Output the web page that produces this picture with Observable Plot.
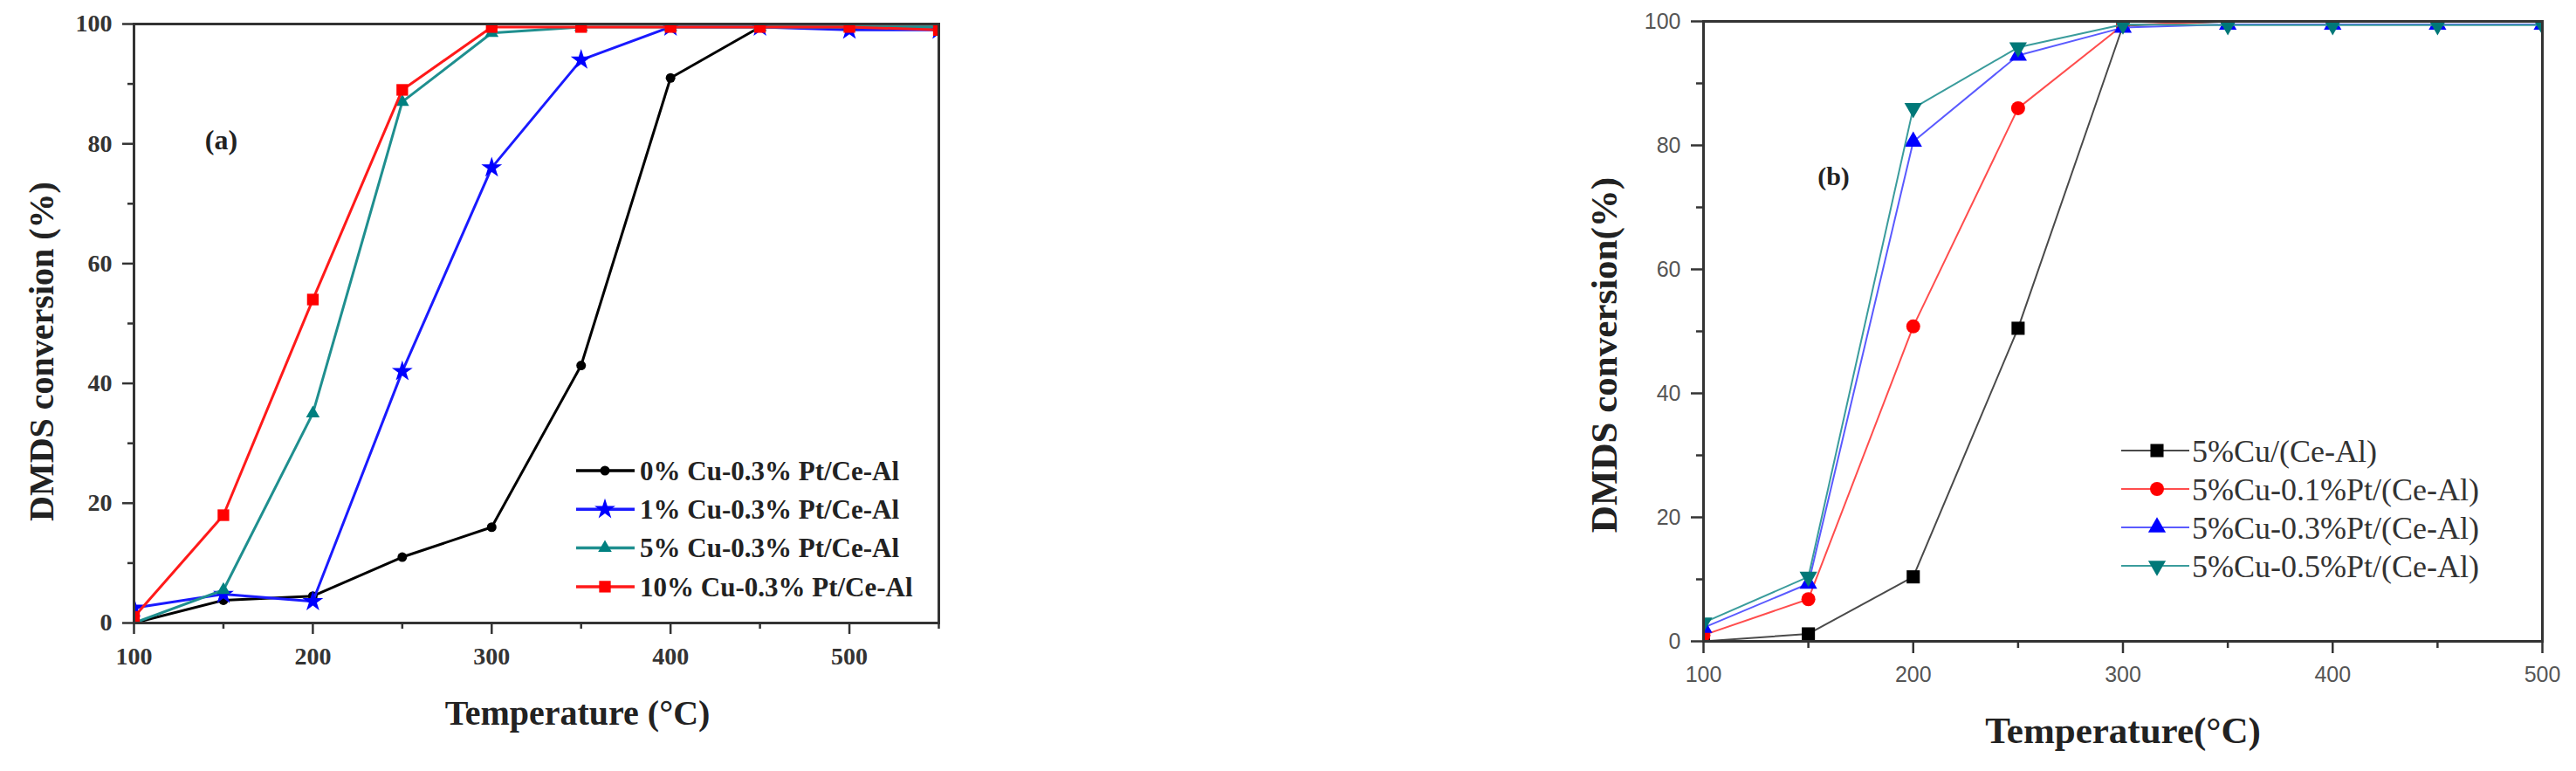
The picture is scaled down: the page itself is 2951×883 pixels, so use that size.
<!DOCTYPE html>
<html>
<head>
<meta charset="utf-8">
<script src="https://cdn.jsdelivr.net/npm/d3@7"></script>
<script src="https://cdn.jsdelivr.net/npm/@observablehq/plot@0.6"></script>
<style>
html, body { margin: 0; padding: 0; background: #fff; }
#wrap { position: relative; width: 2951px; height: 883px; overflow: hidden; background: #fff; }
.panel { position: absolute; top: 0; }
.legend { position: absolute; overflow: visible; }
</style>
</head>
<body>
<div id="wrap"></div>
<script>
// ---------- Panel (a) data ----------
const tempsA = [100, 150, 200, 250, 300, 350, 400, 450, 500, 550];
const cu0  = [0, 3.8, 4.5, 11, 16, 43, 91, 99.5, 99.5, 99.5];
const cu1  = [2.5, 4.8, 3.6, 42, 76, 94, 99.5, 99.5, 99, 99];
const cu5  = [0, 5.5, 35, 87, 98.5, 99.5, 99.5, 99.5, 99.5, 99.5];
const cu10 = [1, 18, 54, 89, 99.5, 99.5, 99.5, 99.5, 99.5, 99];
const namesA = ["0% Cu-0.3% Pt/Ce-Al", "1% Cu-0.3% Pt/Ce-Al", "5% Cu-0.3% Pt/Ce-Al", "10% Cu-0.3% Pt/Ce-Al"];
const colorsA = ["#000000", "#0000ff", "#008080", "#ff0000"];
const lineColorsA = ["#000000", "#1a1aff", "#1f8f8f", "#ff1a1a"];
const symbolsA = ["circle", "star", "triangle", "square"];
const radiiA = [5.5, 7.5, 5.8, 7.5];
const majorXA = [100, 200, 300, 400, 500];
const minorXA = [150, 250, 350, 450, 550];
const majorY = [0, 20, 40, 60, 80, 100];
const minorY = [10, 30, 50, 70, 90];

// ---------- Panel (b) data ----------
const tempsB = [100, 150, 200, 250, 300, 350, 400, 450, 500];
const pt00 = [0, 1.2, 10.4, 50.5, 99.3, 100, 100, 100, 100];
const pt01 = [1, 6.8, 50.8, 86, 99.4, 100, 100, 100, 100];
const pt03 = [2.2, 9.3, 80.6, 94.5, 99, 99.5, 99.5, 99.5, 99.5];
const pt05 = [3, 10.4, 86, 95.8, 99.5, 99.4, 99.4, 99.4, 99.4];
const namesB = ["5%Cu/(Ce-Al)", "5%Cu-0.1%Pt/(Ce-Al)", "5%Cu-0.3%Pt/(Ce-Al)", "5%Cu-0.5%Pt/(Ce-Al)"];
const colorsB = ["#000000", "#ff0000", "#0000ff", "#007878"];
const lineColorsB = ["#4a4a4a", "#ff4d4d", "#5a5aff", "#3a9c9c"];
const symbolsB = ["square", "circle", "triangle", "triangle"];
const rotB = [0, 0, 0, 180];
const radiiB = [8.5, 8, 7.5, 7.5];
const majorXB = [100, 200, 300, 400, 500];
const minorXB = [150, 250, 350, 450];

const serif = "'Liberation Serif', 'Times New Roman', serif";
const sans = "'Liberation Sans', Arial, sans-serif";

function rowsOf(temps, vals, name) {
  return vals.map((v, j) => ({t: temps[j], v, s: name}));
}

const wrap = document.getElementById("wrap");

// ---------- Panel (a) ----------
const seriesA = [cu0, cu1, cu5, cu10];
const marksA = [];
seriesA.forEach((vals, i) => {
  const rows = rowsOf(tempsA, vals, namesA[i]);
  marksA.push(Plot.line(rows, {x: "t", y: "v", stroke: lineColorsA[i], strokeWidth: 3, clip: true}));
  marksA.push(Plot.dot(rows, {x: "t", y: "v", fill: colorsA[i], stroke: "none", symbol: symbolsA[i], r: radiiA[i], clip: true}));
});

const plotA = Plot.plot({
  width: 1100, height: 883,
  marginLeft: 153, marginRight: 25, marginTop: 27, marginBottom: 170,
  x: {domain: [100, 550]},
  y: {domain: [0, 100]},
  style: {fontFamily: serif, background: "transparent", overflow: "visible", color: "#333"},
  marks: [
    ...marksA,
    Plot.frame({stroke: "#333", strokeWidth: 3}),
    Plot.axisX({ticks: majorXA, tickSize: 13, tickPadding: 15, strokeWidth: 2.5, fontSize: 28, fontWeight: "bold", label: null}),
    Plot.axisX({ticks: minorXA, tickSize: 7, tickFormat: () => "", strokeWidth: 2.5, label: null}),
    Plot.axisY({ticks: majorY, tickSize: 13, tickPadding: 12, strokeWidth: 2.5, fontSize: 28, fontWeight: "bold", label: null}),
    Plot.axisY({ticks: minorY, tickSize: 7, tickFormat: () => "", strokeWidth: 2.5, label: null}),
    Plot.text(["(a)"], {text: d => d, frameAnchor: "top-left", dx: 100, dy: 133, fontSize: 32, fontWeight: "bold", fill: "#222", textAnchor: "middle", lineAnchor: "middle"}),
    Plot.text(["Temperature (°C)"], {text: d => d, frameAnchor: "bottom", dx: 47, dy: 104, fontSize: 40, fontWeight: "bold", fill: "#222", textAnchor: "middle", lineAnchor: "middle"}),
    Plot.text(["DMDS conversion (%)"], {text: d => d, frameAnchor: "left", rotate: -90, dx: -105, dy: 32, fontSize: 40, fontWeight: "bold", fill: "#222", textAnchor: "middle", lineAnchor: "middle"})
  ]
});
plotA.classList.add("panel");
plotA.style.left = "0px";
wrap.appendChild(plotA);

// ---------- Panel (b) ----------
const seriesB = [pt00, pt01, pt03, pt05];
const marksB = [];
seriesB.forEach((vals, i) => {
  const rows = rowsOf(tempsB, vals, namesB[i]);
  marksB.push(Plot.line(rows, {x: "t", y: "v", stroke: lineColorsB[i], strokeWidth: 2, clip: true}));
  marksB.push(Plot.dot(rows, {x: "t", y: "v", fill: colorsB[i], stroke: "none", symbol: symbolsB[i], rotate: rotB[i], r: radiiB[i], clip: true}));
});

const plotB = Plot.plot({
  width: 1191, height: 883,
  marginLeft: 191, marginRight: 39, marginTop: 24, marginBottom: 149,
  x: {domain: [100, 500]},
  y: {domain: [0, 100]},
  style: {fontFamily: sans, background: "transparent", overflow: "visible", color: "#333"},
  marks: [
    ...marksB,
    Plot.frame({stroke: "#333", strokeWidth: 3}),
    Plot.axisX({ticks: majorXB, tickSize: 14, tickPadding: 15, strokeWidth: 2.5, fontSize: 25, fill: "#555", label: null}),
    Plot.axisX({ticks: minorXB, tickSize: 8, tickFormat: () => "", strokeWidth: 2.5, label: null}),
    Plot.axisY({ticks: majorY, tickSize: 14, tickPadding: 12, strokeWidth: 2.5, fontSize: 25, fill: "#555", label: null}),
    Plot.axisY({ticks: minorY, tickSize: 8, tickFormat: () => "", strokeWidth: 2.5, label: null}),
    Plot.text(["(b)"], {text: d => d, frameAnchor: "top-left", dx: 149, dy: 178, fontSize: 30, fontWeight: "bold", fontFamily: serif, fill: "#222", textAnchor: "middle", lineAnchor: "middle"}),
    Plot.text(["Temperature(°C)"], {text: d => d, frameAnchor: "bottom", dx: 0, dy: 103, fontSize: 43, fontWeight: "bold", fontFamily: serif, fill: "#222", textAnchor: "middle", lineAnchor: "middle"}),
    Plot.text(["DMDS conversion(%)"], {text: d => d, frameAnchor: "left", rotate: -90, dx: -113, dy: 27, fontSize: 43, fontWeight: "bold", fontFamily: serif, fill: "#222", textAnchor: "middle", lineAnchor: "middle"})
  ]
});
plotB.classList.add("panel");
plotB.style.left = "1760px";
wrap.appendChild(plotB);

// ---------- Legends ----------
const symMap = {circle: d3.symbolCircle, star: d3.symbolStar, triangle: d3.symbolTriangle, square: d3.symbolSquare};

function legend({left, top, width, height, names, colors, lineColors, symbols, radii, rots, y0, step, x1, x2, xm, xt, lineWidth, font, fontSize, fontWeight, textFill}) {
  const svg = d3.create("svg").attr("class", "legend").attr("width", width).attr("height", height)
    .style("left", left + "px").style("top", top + "px");
  names.forEach((name, i) => {
    const y = y0 + i * step;
    svg.append("line").attr("x1", x1).attr("x2", x2).attr("y1", y).attr("y2", y)
      .attr("stroke", lineColors[i]).attr("stroke-width", lineWidth);
    svg.append("path").attr("d", d3.symbol(symMap[symbols[i]], Math.PI * radii[i] * radii[i])())
      .attr("transform", `translate(${xm},${y}) rotate(${rots ? rots[i] : 0})`)
      .attr("fill", colors[i]);
    svg.append("text").attr("x", xt).attr("y", y).attr("dy", "0.35em")
      .attr("font-family", font).attr("font-size", fontSize).attr("font-weight", fontWeight)
      .attr("fill", textFill).text(name);
  });
  wrap.appendChild(svg.node());
}

legend({left: 650, top: 505, width: 450, height: 200, names: namesA, colors: colorsA, lineColors: lineColorsA,
  symbols: symbolsA, radii: radiiA, y0: 34, step: 44.3, x1: 10, x2: 77, xm: 43, xt: 83,
  lineWidth: 3.5, font: serif, fontSize: 31, fontWeight: "bold", textFill: "#222"});

legend({left: 2420, top: 490, width: 520, height: 190, names: namesB, colors: colorsB, lineColors: lineColorsB,
  symbols: symbolsB, radii: radiiB, rots: rotB, y0: 26, step: 44, x1: 10, x2: 88, xm: 51, xt: 91,
  lineWidth: 2, font: serif, fontSize: 36, fontWeight: "normal", textFill: "#333"});
</script>
</body>
</html>
